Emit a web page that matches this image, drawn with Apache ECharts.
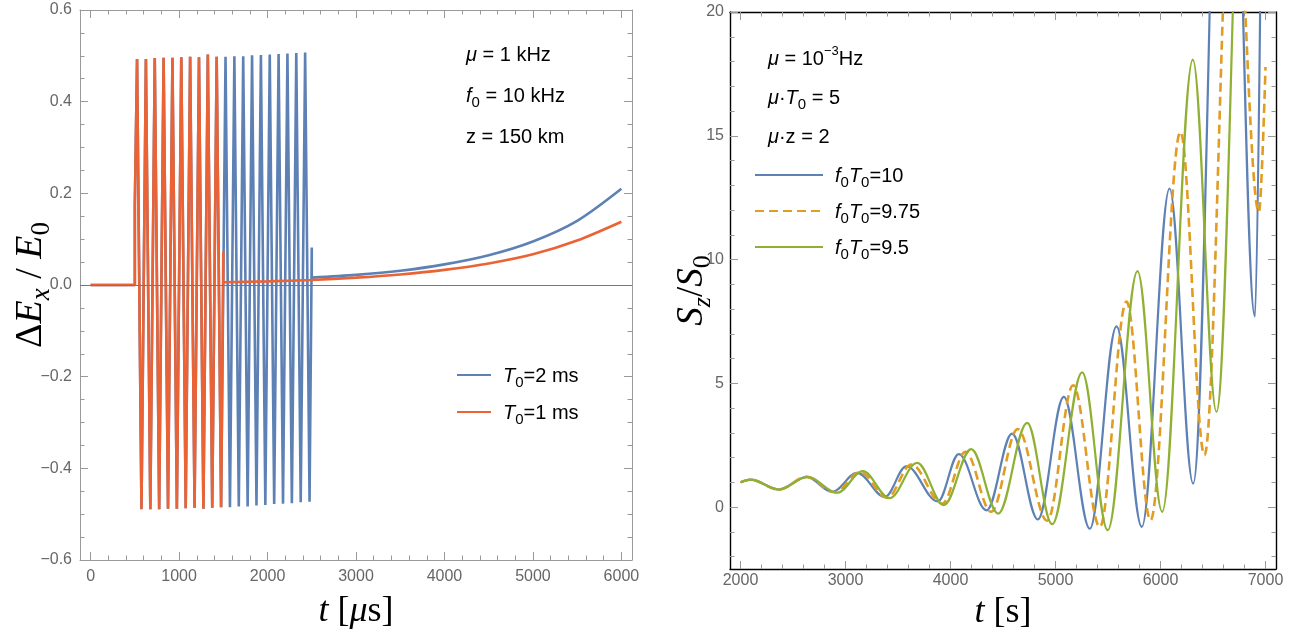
<!DOCTYPE html>
<html>
<head>
<meta charset="utf-8">
<title>Ex and Sz</title>
<script src="https://cdn.jsdelivr.net/npm/echarts@6.0.0/dist/echarts.min.js"></script>
<style>
  html, body { margin: 0; padding: 0; background: #fff; }
  #main { width: 1307px; height: 635px; }
</style>
</head>
<body>
<div id="main"></div>
<script>
// left panel: dEx/E0 against t [us]
// oscillating part (peaks and troughs), then the slow tail
var redOscT = [0, 500, 500, 525, 575, 625, 675, 725, 775, 825, 875, 925, 975, 1025, 1075, 1125, 1175, 1225, 1275, 1325, 1375, 1425, 1475, 1500, 1500];
var redOscV = [0, 0, 0.175, 0.493, -0.489, 0.493, -0.489, 0.495, -0.489, 0.496, -0.488, 0.496, -0.488, 0.497, -0.487, 0.498, -0.486, 0.497, -0.488, 0.503, -0.486, 0.498, -0.485, 0.072, 0.006];
var redTailT = [1500, 2000, 2500, 3000, 3500, 4000, 4500, 5000, 5500, 6000];
var redTailV = [0.006, 0.008, 0.011, 0.016, 0.023, 0.033, 0.047, 0.067, 0.097, 0.138];

var blueOscT = [0, 500, 500, 525, 575, 625, 675, 725, 775, 825, 875, 925, 975, 1025, 1075, 1125, 1175, 1225, 1275, 1325, 1375, 1425, 1475,
  1525, 1575, 1625, 1675, 1725, 1775, 1825, 1875, 1925, 1975, 2025, 2075, 2125, 2175, 2225, 2275, 2325, 2375, 2425, 2475, 2500, 2500];
var blueOscV = [0, 0, 0.175, 0.493, -0.489, 0.493, -0.489, 0.495, -0.489, 0.496, -0.488, 0.496, -0.488, 0.497, -0.487, 0.498, -0.486, 0.497, -0.488, 0.503, -0.486, 0.498, -0.485,
  0.498, -0.485, 0.499, -0.483, 0.499, -0.483, 0.501, -0.481, 0.502, -0.480, 0.503, -0.478, 0.504, -0.477, 0.505, -0.476, 0.506, -0.474, 0.507, -0.473, 0.082, 0.016];
var blueTailT = [2500, 3000, 3500, 4000, 4500, 5000, 5500, 6000];
var blueTailV = [0.016, 0.022, 0.031, 0.045, 0.065, 0.095, 0.14, 0.21];

// right panel: Sz/S0 against t [s], extrema
var s10T = [2000, 2095, 2365, 2629, 2873, 3111, 3374, 3580, 3879, 4079, 4343, 4587, 4832, 5079, 5327, 5581, 5822, 6086, 6311, 6630, 6900, 7000];
var s10V = [1.00, 1.11, 0.71, 1.22, 0.62, 1.38, 0.41, 1.65, 0.23, 2.14, -0.13, 2.97, -0.50, 4.45, -0.87, 7.30, -0.80, 12.87, 0.95, 40.0, 7.7, 45.0];
var s975T = [2000, 2095, 2365, 2629, 2897, 3138, 3397, 3627, 3921, 4143, 4387, 4640, 4921, 5168, 5422, 5676, 5905, 6190, 6419, 6690, 6937, 7000];
var s975V = [1.00, 1.11, 0.71, 1.22, 0.60, 1.41, 0.38, 1.72, 0.14, 2.23, -0.19, 3.15, -0.55, 4.92, -0.80, 8.30, -0.53, 15.15, 2.10, 27.0, 11.92, 17.78];
var s95T = [2000, 2095, 2365, 2640, 2921, 3165, 3419, 3683, 3936, 4197, 4454, 4730, 4968, 5254, 5498, 5781, 6016, 6308, 6533, 6830, 7000];
var s95V = [1.00, 1.11, 0.71, 1.22, 0.58, 1.45, 0.36, 1.79, 0.08, 2.34, -0.26, 3.40, -0.69, 5.44, -0.93, 9.53, -0.19, 18.08, 3.85, 34.0, 22.0];

// ticks
var leftXTicks = [0, 1000, 2000, 3000, 4000, 5000, 6000];
var leftYTicks = [-0.6, -0.4, -0.2, 0, 0.2, 0.4, 0.6];
var rightXTicks = [2000, 3000, 4000, 5000, 6000, 7000];
var rightYTicks = [0, 5, 10, 15, 20];

var SANS = 'Liberation Sans';
var SERIF = 'Liberation Serif';
var BLUE = '#5E81B5', RED = '#EB6235', ORANGE = '#E19C24', GREEN = '#8FB032';
var TICK = '#999999';

function zip(xs, ys) {
  return xs.map(function (x, i) { return [x, ys[i]]; });
}

// minor tick positions between the majors
function minors(min, max, step, major) {
  var out = [];
  var start = Math.ceil(min / step - 1e-9) * step;
  for (var v = start; v <= max + 1e-9; v += step) {
    var r = Math.round(v * 1000) / 1000;
    var isMajor = major.some(function (m) { return Math.abs(m - r) < step / 10; });
    if (!isMajor) out.push(r);
  }
  return out;
}

// a Mathematica style frame: 2 sides, each with major + minor inward ticks
function frame(grid, min, max, major, minorStep, sides, lineColor, lineWidth, label, extra) {
  var minor = minors(min, max, minorStep, major);
  var list = [];
  sides.forEach(function (side, k) {
    [major, minor].forEach(function (vals, m) {
      var ax = {
        gridIndex: grid, type: 'value', min: min, max: max, position: side, silent: true,
        splitLine: { show: false },
        axisLine: { show: m === 0, onZero: false, lineStyle: { color: lineColor, width: lineWidth } },
        axisTick: { show: true, inside: true, length: m === 0 ? 8 : 4.5, customValues: vals, lineStyle: { color: TICK, width: 1 } },
        axisLabel: (k === 0 && m === 0) ? Object.assign({ customValues: major }, label) : { show: false }
      };
      if (k === 0 && m === 0 && extra) Object.assign(ax, extra);
      list.push(ax);
    });
  });
  return list;
}

var tickLabel = { color: '#666', fontFamily: SANS, fontSize: 16, formatter: function (v) { return String(v); } };
function titleRich(size) {
  var sub = Math.round(size * 0.7);
  return {
    r: { fontFamily: SERIF, fontSize: size, color: '#000', lineHeight: size + 10 },
    i: { fontFamily: SERIF, fontSize: size, fontStyle: 'italic', color: '#000', lineHeight: size + 10 },
    si: { fontFamily: SERIF, fontSize: sub, fontStyle: 'italic', color: '#000', lineHeight: sub, verticalAlign: 'bottom' },
    sr: { fontFamily: SERIF, fontSize: sub, color: '#000', lineHeight: sub, verticalAlign: 'bottom' }
  };
}
function axisName(text, gap, size, rotate) {
  var o = {
    name: text, nameLocation: 'middle', nameGap: gap, nameMoveOverlap: false,
    nameTextStyle: { rich: titleRich(size), lineHeight: size + 10 }
  };
  if (rotate) o.nameRotate = 90;
  return o;
}

var xAxes = [].concat(
  frame(0, -120, 6120, leftXTicks, 200, ['bottom', 'top'], '#9a9a9a', 1,
    Object.assign({}, tickLabel, { margin: 9 }), axisName('{i|t}{r| [}{i|μ}{r|s]}', 29, 36)),
  frame(1, 1900, 7100, rightXTicks, 200, ['bottom', 'top'], '#000', 1.4,
    Object.assign({}, tickLabel, { margin: 4 }), axisName('{i|t}{r| [s]}', 21, 36))
);
var yAxes = [].concat(
  frame(0, -0.6, 0.6, leftYTicks, 0.05, ['left', 'right'], '#9a9a9a', 1,
    Object.assign({}, tickLabel, { margin: 8, formatter: function (v) { return v.toFixed(1).replace('-', '\u2212'); } }),
    axisName('{r|Δ}{i|E}{si|x}{r| / }{i|E}{sr|0}', 25, 38, true)),
  frame(1, -2.5, 20, rightYTicks, 1, ['left', 'right'], '#000', 1.4,
    Object.assign({}, tickLabel, { margin: 6 }), axisName('{i|S}{si|z}{r|/}{i|S}{sr|0}', 14, 37, true))
);

function curve(name, t, v, color, xi, yi, width, extra) {
  return Object.assign({
    name: name, type: 'line', xAxisIndex: xi, yAxisIndex: yi, data: zip(t, v),
    symbol: 'none', showSymbol: false, clip: true, animation: false, silent: true,
    lineStyle: { color: color, width: width }
  }, extra || {});
}

// text helpers for notes and hand-made legends
var noteRich = {
  i: { fontFamily: SANS, fontSize: 20, fontStyle: 'italic', fill: '#000', lineHeight: 28 },
  s: { fontFamily: SANS, fontSize: 15, fill: '#000', lineHeight: 15, verticalAlign: 'bottom' },
  p: { fontFamily: SANS, fontSize: 13, fill: '#000', lineHeight: 13, verticalAlign: 'top' }
};
function note(x, y, text) {
  return {
    type: 'text', x: x, y: y, silent: true,
    style: { text: text, fontFamily: SANS, fontSize: 20, fill: '#000', lineHeight: 28, align: 'left', verticalAlign: 'middle', rich: noteRich }
  };
}
function key(x1, x2, y, color, dash) {
  return {
    type: 'line', silent: true, shape: { x1: x1, y1: y, x2: x2, y2: y },
    style: { stroke: color, lineWidth: 2.2, lineDash: dash || null }
  };
}

var zeroLine = {
  silent: true, symbol: 'none', animation: false, label: { show: false },
  lineStyle: { color: '#777', width: 1, type: 'solid' },
  data: [{ yAxis: 0 }]
};

var chart = echarts.init(document.getElementById('main'), null, { renderer: 'canvas' });
chart.setOption({
  animation: false,
  backgroundColor: '#fff',
  grid: [
    { left: 80, top: 10, width: 552, height: 550, outerBoundsMode: 'none', containLabel: false },
    { left: 730, top: 12, width: 546, height: 557, outerBoundsMode: 'none', containLabel: false }
  ],
  xAxis: xAxes,
  yAxis: yAxes,
  series: [
    curve('T0=2 ms', blueOscT, blueOscV, BLUE, 0, 0, 2.6),
    curve('T0=2 ms tail', blueTailT, blueTailV, BLUE, 0, 0, 2.6, { smooth: 0.3 }),
    curve('T0=1 ms', redOscT, redOscV, RED, 0, 0, 2.6),
    curve('T0=1 ms tail', redTailT, redTailV, RED, 0, 0, 2.6, { smooth: 0.3, markLine: zeroLine }),
    curve('f0T0=10', s10T, s10V, BLUE, 4, 4, 2.2, { smooth: 0.36, smoothMonotone: 'x' }),
    curve('f0T0=9.75', s975T, s975V, ORANGE, 4, 4, 2.6, { smooth: 0.36, smoothMonotone: 'x', lineStyle: { color: ORANGE, width: 2.6, type: [9, 5] } }),
    curve('f0T0=9.5', s95T, s95V, GREEN, 4, 4, 2.2, { smooth: 0.36, smoothMonotone: 'x' })
  ],
  graphic: [
    note(466, 55, '{i|μ} = 1 kHz'),
    note(466, 96, '{i|f}{s|0} = 10 kHz'),
    note(466, 137, 'z = 150 km'),
    key(457, 491, 375, BLUE),
    note(503, 376, '{i|T}{s|0}=2 ms'),
    key(457, 491, 412, RED),
    note(503, 413, '{i|T}{s|0}=1 ms'),

    note(768, 59, '{i|μ} = 10{p|−3}Hz'),
    note(768, 98, '{i|μ}·{i|T}{s|0} = 5'),
    note(768, 137, '{i|μ}·z = 2'),
    key(755, 823, 175, BLUE),
    note(835, 176, '{i|f}{s|0}{i|T}{s|0}=10'),
    key(755, 823, 211, ORANGE, [9, 5]),
    note(835, 212, '{i|f}{s|0}{i|T}{s|0}=9.75'),
    key(755, 823, 247, GREEN),
    note(835, 248, '{i|f}{s|0}{i|T}{s|0}=9.5')
  ]
});
</script>
</body>
</html>
